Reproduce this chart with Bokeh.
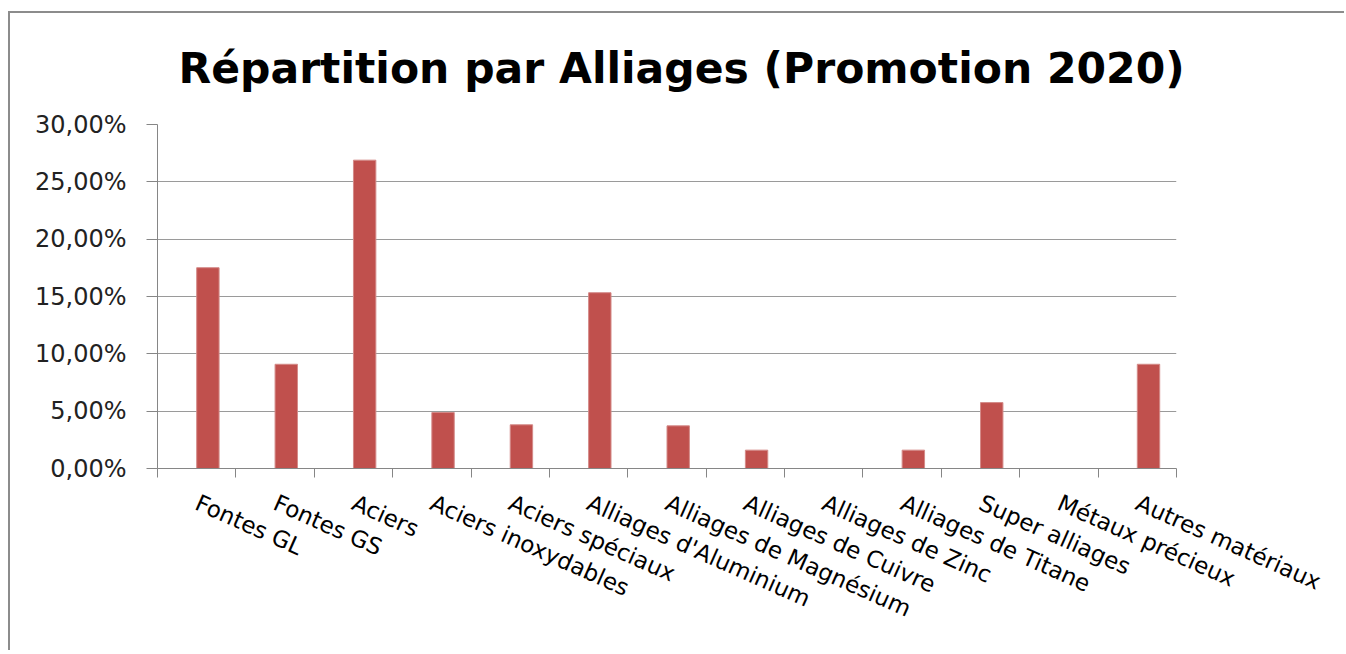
import numpy as np
from bokeh.plotting import figure
from bokeh.models import Range1d, FixedTicker, ColumnDataSource
from bokeh.transform import dodge
from bokeh.embed import file_html
from bokeh.resources import INLINE

title_text = "Répartition par Alliages (Promotion 2020)"
categories = ["Fontes GL", "Fontes GS", "Aciers", "Aciers inoxydables", "Aciers spéciaux",
              "Alliages d'Aluminium", "Alliages de Magnésium", "Alliages de Cuivre",
              "Alliages de Zinc", "Alliages de Titane", "Super alliages",
              "Métaux précieux", "Autres matériaux"]
shares = [0.1751, 0.0909, 0.2689, 0.0488, 0.0381, 0.1533, 0.0372, 0.0160, 0.0,
          0.0160, 0.0575, 0.0, 0.0909]
ytick_values = [0.0, 0.05, 0.10, 0.15, 0.20, 0.25, 0.30]
ytick_labels = ["0,00%", "5,00%", "10,00%", "15,00%", "20,00%", "25,00%", "30,00%"]

n = len(categories)
centers = [i + 0.5 for i in range(n)]
bar_w = 1 / 3.5

src = ColumnDataSource(dict(x=centers, top=shares, cat=categories))

W, H = 1336, 639
p = figure(width=W, height=H, output_backend="svg", toolbar_location=None,
           x_range=Range1d(0, n), y_range=Range1d(0, 0.30),
           min_border_left=147, min_border_right=W - 1166, min_border_top=111,
           min_border_bottom=184)
p.outline_line_color = None
p.background_fill_color = "white"
p.border_fill_color = "white"
p.styles = {"margin-left": "8px", "margin-top": "11px",
            "border-left": "2px solid #8c8c8c", "border-top": "2px solid #8c8c8c"}

p.vbar(x=dodge("x", bar_w / 2, range=p.x_range), top="top", width=bar_w, bottom=0,
       source=src, fill_color="#C0504D", line_color="#D48A88", line_width=1)

# title
p.title.text = title_text
p.title.text_font = "DejaVu Sans"
p.title.text_font_style = "bold"
p.title.text_font_size = "42.5px"
p.title.text_line_height = 0.8
p.title.text_color = "black"
p.title.align = "left"
p.title.vertical_align = "top"
p.title.offset = 21
p.title.standoff = 59

axis_gray = "#868686"
grid_gray = "#9a9a9a"

# x axis
xa = p.xaxis[0]
xa.ticker = FixedTicker(ticks=centers, minor_ticks=list(range(n + 1)))
xa.major_label_overrides = {c: lab for c, lab in zip(centers, categories)}
xa.major_tick_line_color = None
xa.minor_tick_line_color = axis_gray
xa.minor_tick_out = 9
xa.minor_tick_in = 0
xa.axis_line_color = axis_gray
xa.major_label_orientation = -0.42
xa.major_label_text_font = "DejaVu Sans"
xa.major_label_text_font_size = "23px"
xa.major_label_text_color = "black"
xa.major_label_standoff = 24

# y axis
ya = p.yaxis[0]
ya.ticker = FixedTicker(ticks=ytick_values, minor_ticks=[])
ya.major_label_overrides = {v: lab for v, lab in zip(ytick_values, ytick_labels)}
ya.axis_line_color = axis_gray
ya.major_tick_line_color = axis_gray
ya.major_tick_out = 11
ya.major_tick_in = 0
ya.major_label_text_font = "DejaVu Sans"
ya.major_label_text_font_size = "24px"
ya.major_label_text_color = "#222222"
ya.major_label_standoff = 20

p.xgrid.grid_line_color = None
p.ygrid.grid_line_color = grid_gray
p.ygrid.grid_line_width = 1

open("out.html", "w").write(file_html(p, INLINE))
